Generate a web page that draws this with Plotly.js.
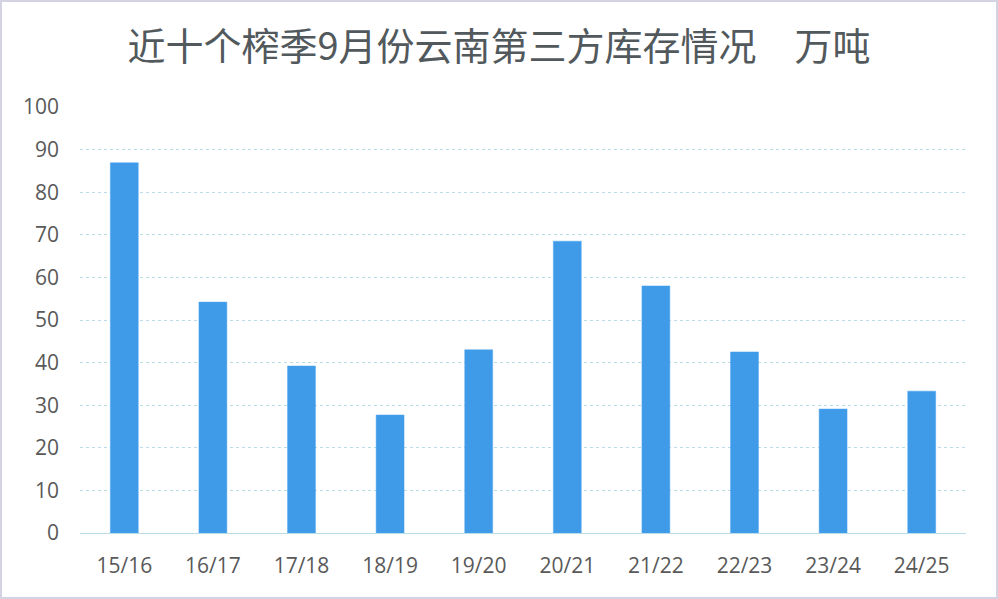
<!DOCTYPE html>
<html><head><meta charset="utf-8">
<script src="https://cdn.plot.ly/plotly-3.0.1.min.js"></script>
<style>
html,body{margin:0;padding:0;background:#fff;}
#wrap{width:998px;height:599px;box-sizing:border-box;border:2px solid #d3d3e3;overflow:hidden;}
#chart{width:994px;height:595px;}
</style></head>
<body><div id="wrap"><div id="chart"></div></div>
<script>
const categories = ["15/16","16/17","17/18","18/19","19/20","20/21","21/22","22/23","23/24","24/25"];
const inventory = [86.9, 54.2, 39.2, 27.7, 43.0, 68.5, 58.0, 42.5, 29.1, 33.3];
const yTicks = [0,10,20,30,40,50,60,70,80,90,100];
const titleText = "近十个榨季9月份云南第三方库存情况　万吨";

Plotly.newPlot("chart", [{
  type: "bar",
  x: categories,
  y: inventory,
  marker: {color: "#3f9be8", line: {color: "#4aa3f0", width: 0.5}},
  hoverinfo: "x+y"
}], {
  width: 994, height: 595,
  margin: {l: 78, r: 30, t: 105, b: 64},
  paper_bgcolor: "#ffffff",
  plot_bgcolor: "#ffffff",
  bargap: 0.685,
  showlegend: false,
  title: {
    text: titleText,
    x: 0.5, xanchor: "center",
    y: 0.925, yanchor: "middle",
    font: {family: "Noto Sans CJK SC, sans-serif", size: 38, color: "#52595d"}
  },
  xaxis: {
    type: "category",
    showgrid: false,
    showline: false,
    zeroline: false,
    ticks: "",
    ticklabelstandoff: 18,
    tickfont: {family: "Open Sans, Noto Sans, sans-serif", size: 21, color: "#595959"}
  },
  yaxis: {
    range: [0, 100],
    tickvals: yTicks,
    ticktext: yTicks.map(String),
    showgrid: true,
    gridcolor: "#b9dde6",
    griddash: "dot",
    gridwidth: 1,
    zeroline: true,
    zerolinecolor: "#b9dde6",
    zerolinewidth: 1,
    showline: false,
    ticks: "",
    ticklabelstandoff: 20,
    tickfont: {family: "Open Sans, Noto Sans, sans-serif", size: 21, color: "#595959"}
  }
}, {displayModeBar: false, staticPlot: true});
</script></body></html>
